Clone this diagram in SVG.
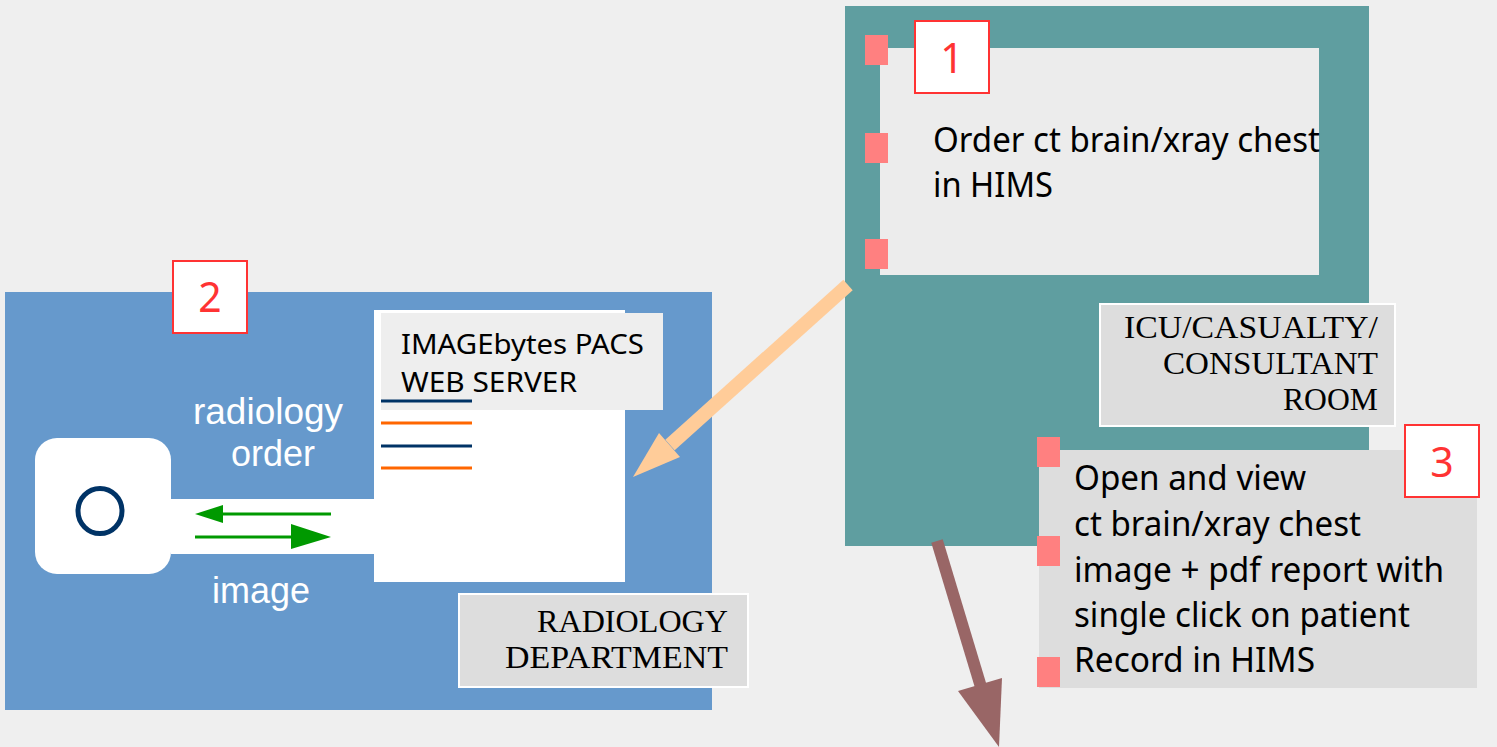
<svg xmlns="http://www.w3.org/2000/svg" width="1497" height="747" viewBox="0 0 1497 747">
<style>
.num{fill:#ffffff;stroke:#ff3333;stroke-width:2}
.numt{font-family:"Noto Sans","Liberation Sans",sans-serif;font-size:41px;fill:#ff3333;text-anchor:middle}
.body{font-family:"Noto Sans","Liberation Sans",sans-serif;font-size:34px;fill:#000000}
.srv{font-family:"Noto Sans","Liberation Sans",sans-serif;font-size:28px;fill:#000000}
.lbl{fill:#dddddd;stroke:#ffffff;stroke-width:2}
.serif{font-family:"Liberation Serif",serif;font-size:31px;fill:#000000;text-anchor:end}
.wht{font-family:"Liberation Sans",Arial,sans-serif;font-size:36px;fill:#ffffff;text-anchor:middle}
.pink{fill:#ff8080}
</style>
<rect x="0" y="0" width="1497" height="747" fill="#efefef"/>

<g id="radiology-department">
  <rect x="5" y="292" width="707" height="418" fill="#6699cc"/>
  <rect x="374" y="310" width="251" height="272" fill="#ffffff"/>
  <rect x="171" y="499" width="204" height="55" fill="#ffffff"/>
  <rect x="35" y="438" width="136" height="136" rx="22" ry="22" fill="#ffffff"/>
  <ellipse cx="100" cy="511" rx="22" ry="22.5" fill="none" stroke="#003366" stroke-width="5"/>
  <text class="wht" x="268" y="424" textLength="150" lengthAdjust="spacingAndGlyphs">radiology</text>
  <text class="wht" x="273" y="466">order</text>
  <text class="wht" x="261" y="603">image</text>
  <g id="dept-label">
    <rect class="lbl" x="459" y="594" width="289" height="93"/>
    <text class="serif" x="728" y="632" textLength="191" lengthAdjust="spacingAndGlyphs">RADIOLOGY</text>
    <text class="serif" x="728" y="668" textLength="223" lengthAdjust="spacingAndGlyphs">DEPARTMENT</text>
  </g>
</g>

<g id="pacs-server">
  <rect x="381" y="313" width="282" height="97" fill="#eeeeee"/>
  <text class="srv" x="401" y="354" textLength="243" lengthAdjust="spacingAndGlyphs">IMAGEbytes PACS</text>
  <text class="srv" x="401" y="392" textLength="176" lengthAdjust="spacingAndGlyphs">WEB SERVER</text>
  <line x1="381" y1="401" x2="472" y2="401" stroke="#003366" stroke-width="3"/>
  <line x1="381" y1="423" x2="472" y2="423" stroke="#ff6600" stroke-width="3"/>
  <line x1="381" y1="446" x2="472" y2="446" stroke="#003366" stroke-width="3"/>
  <line x1="381" y1="468" x2="472" y2="468" stroke="#ff6600" stroke-width="3"/>
</g>

<g id="step2">
  <rect class="num" x="173" y="261" width="74" height="72"/>
  <text class="numt" x="210" y="312">2</text>
</g>

<g id="icu-room">
  <rect x="845" y="6" width="524" height="540" fill="#5f9ea0"/>
  <rect x="880" y="48" width="439" height="227" fill="#ececec"/>
  <rect class="pink" x="865" y="35" width="23" height="30"/>
  <rect class="pink" x="865" y="133" width="23" height="30"/>
  <rect class="pink" x="865" y="239" width="23" height="30"/>
  <text class="body" x="933" y="152" textLength="387" lengthAdjust="spacingAndGlyphs">Order ct brain/xray chest</text>
  <text class="body" x="933" y="197" textLength="120" lengthAdjust="spacingAndGlyphs">in HIMS</text>
  <g id="icu-label">
    <rect class="lbl" x="1100" y="304" width="295" height="122"/>
    <text class="serif" x="1378" y="338" textLength="254" lengthAdjust="spacingAndGlyphs">ICU/CASUALTY/</text>
    <text class="serif" x="1378" y="374" textLength="215" lengthAdjust="spacingAndGlyphs">CONSULTANT</text>
    <text class="serif" x="1378" y="410" textLength="95" lengthAdjust="spacingAndGlyphs">ROOM</text>
  </g>
</g>

<g id="step1">
  <rect class="num" x="915" y="21" width="74" height="72"/>
  <text class="numt" x="952" y="73">1</text>
</g>

<g id="view-result">
  <rect x="1039" y="450" width="438" height="238" fill="#dddddd"/>
  <rect class="pink" x="1037" y="437" width="23" height="30"/>
  <rect class="pink" x="1037" y="536" width="23" height="30"/>
  <rect class="pink" x="1037" y="657" width="23" height="30"/>
  <text class="body" x="1074" y="490" textLength="232" lengthAdjust="spacingAndGlyphs">Open and view</text>
  <text class="body" x="1074" y="536" textLength="287" lengthAdjust="spacingAndGlyphs">ct brain/xray chest</text>
  <text class="body" x="1074" y="582" textLength="370" lengthAdjust="spacingAndGlyphs">image + pdf report with</text>
  <text class="body" x="1074" y="627" textLength="336" lengthAdjust="spacingAndGlyphs">single click on patient</text>
  <text class="body" x="1074" y="672" textLength="241" lengthAdjust="spacingAndGlyphs">Record in HIMS</text>
</g>

<g id="step3">
  <rect class="num" x="1405" y="425" width="74" height="72"/>
  <text class="numt" x="1442" y="477">3</text>
</g>

<g id="connectors">
  <line x1="331" y1="514" x2="218" y2="514" stroke="#009900" stroke-width="3"/>
  <polygon points="195,514 223,505 223,523" fill="#009900"/>
  <line x1="195" y1="537" x2="296" y2="537" stroke="#009900" stroke-width="3"/>
  <polygon points="331,537 291,524 291,549" fill="#009900"/>
  <line x1="848" y1="285" x2="670" y2="445" stroke="#ffcc99" stroke-width="14"/>
  <polygon points="633,477 659,433 680,457" fill="#ffcc99"/>
  <line x1="937" y1="541" x2="981" y2="687" stroke="#996666" stroke-width="12"/>
  <polygon points="999,747 958,691 1002,678" fill="#996666"/>
</g>
</svg>
